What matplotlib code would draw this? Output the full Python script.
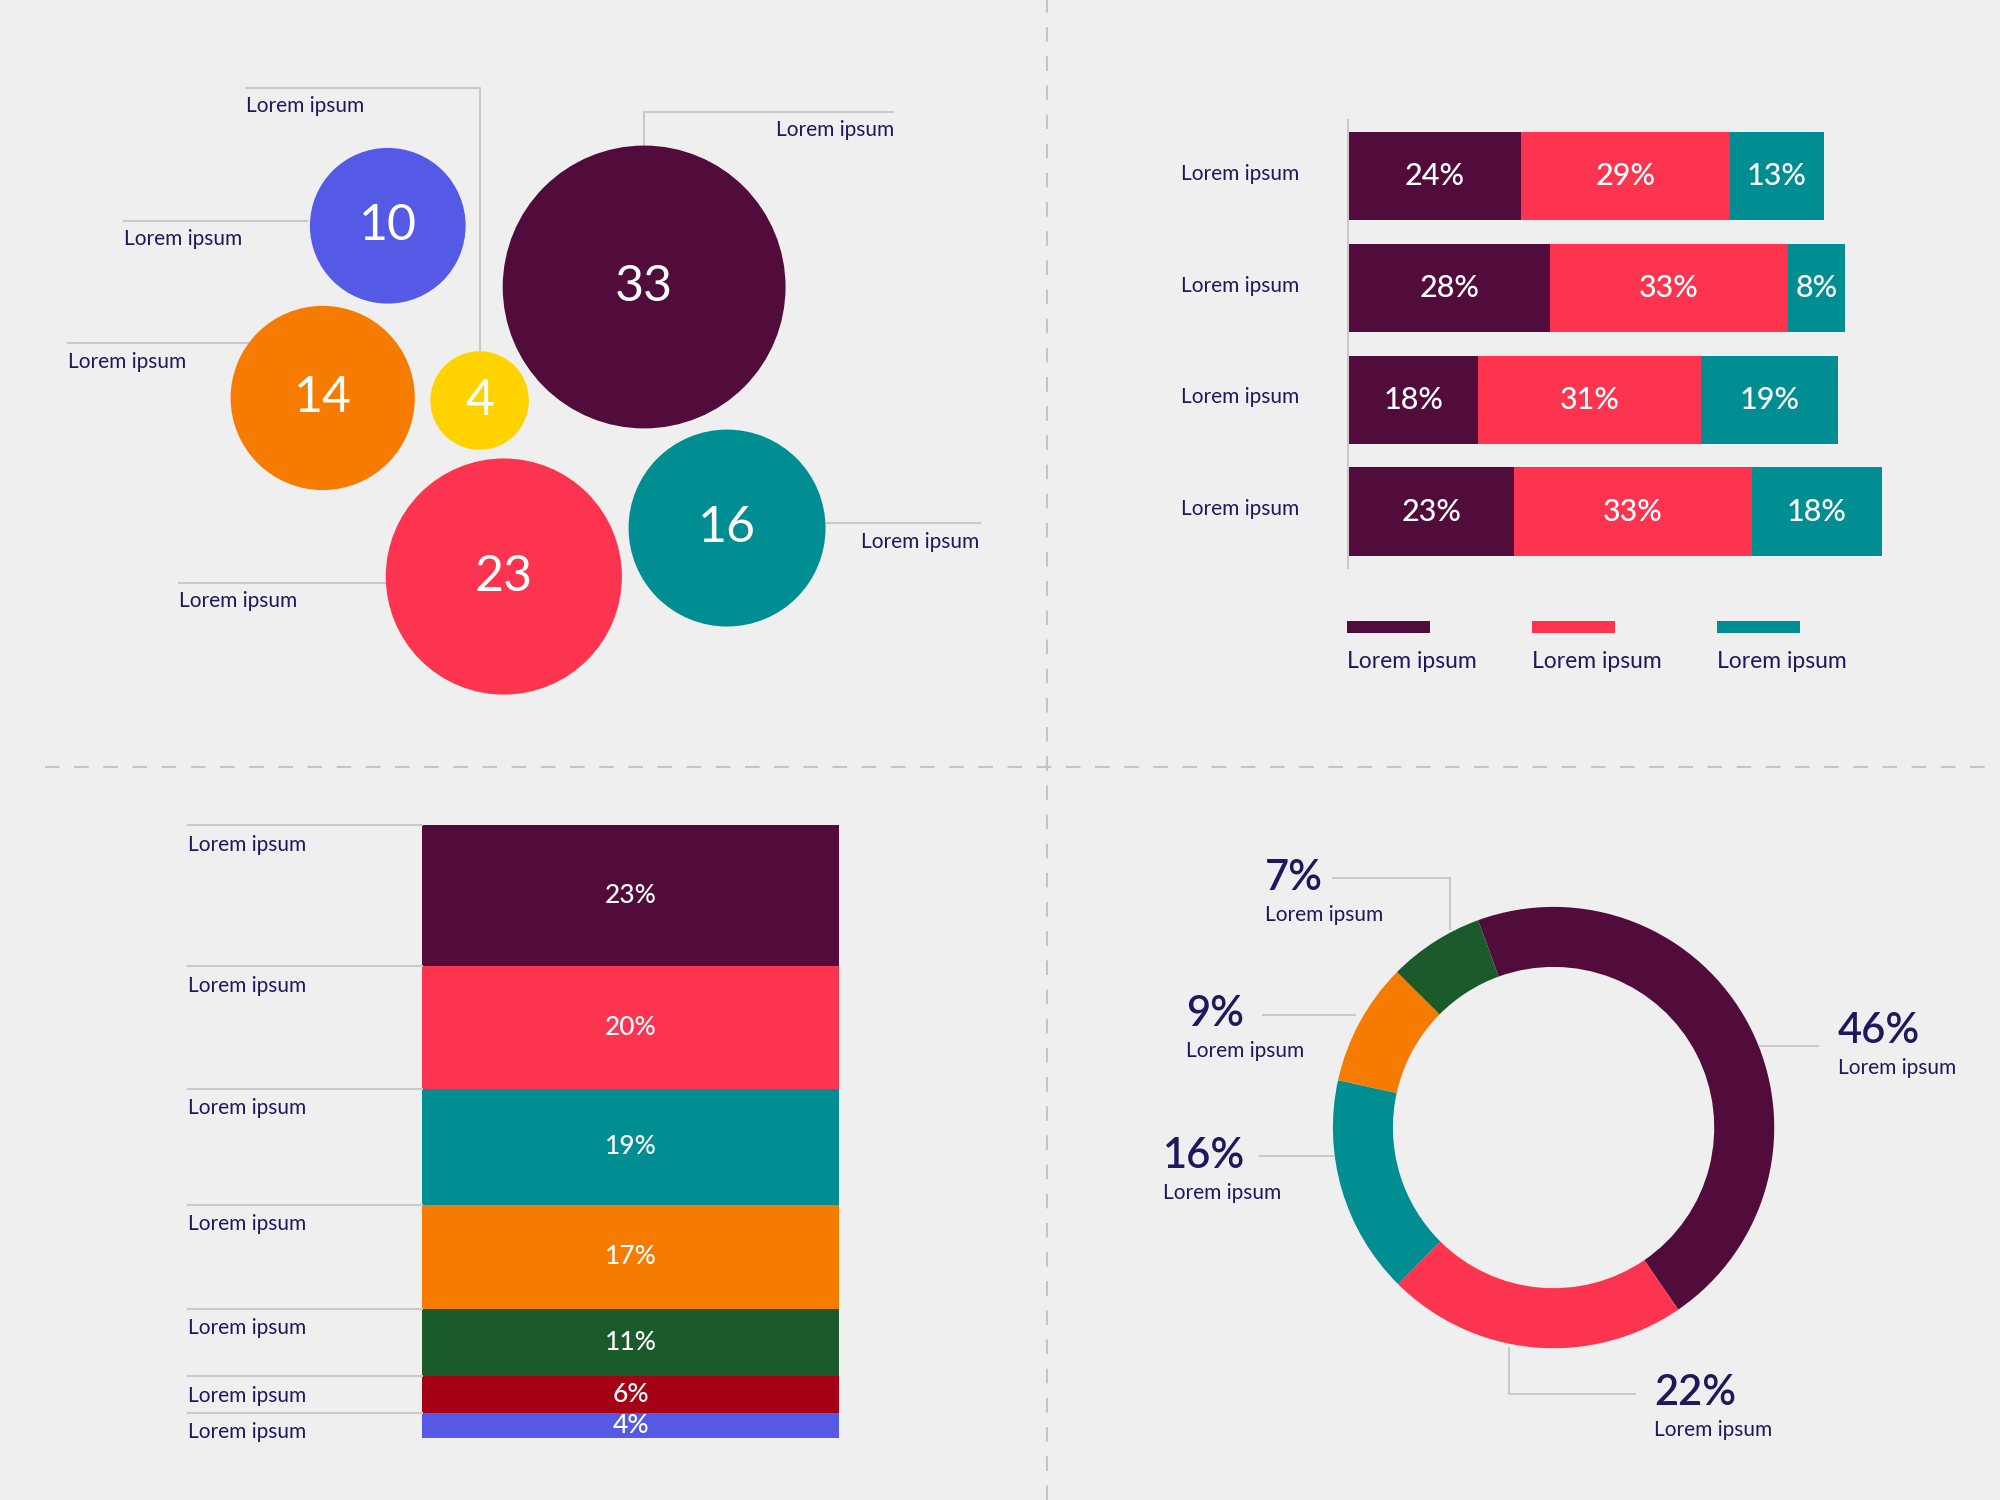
import numpy as np
import matplotlib
matplotlib.use("Agg")
import matplotlib.pyplot as plt
from matplotlib.patches import Circle, Rectangle
from matplotlib.lines import Line2D
from matplotlib.transforms import blended_transform_factory

plt.rcParams['font.family'] = ['Lato', 'DejaVu Sans']

# layout is measured on a 1568 x 1176 grid, figure is 2000 x 1500 px
W, H = 1568, 1176
BG = '#efefef'
NAVY = '#1c1a5c'
GREY = '#c9c9c9'

PURPLE = '#520c3c'
RED = '#fc344f'
TEAL = '#008e93'
ORANGE = '#f57c00'
GREEN = '#1b5a2b'
DARKRED = '#a50016'
BLUE = '#545ae6'
YELLOW = '#ffd200'

# --- bubbles
bubble_values = [10, 14, 4, 33, 23, 16]
bubble_x = [304, 253, 376, 505, 395, 570]
bubble_y = [177, 312, 314, 225, 452, 414]
bubble_colors = [BLUE, ORANGE, YELLOW, PURPLE, RED, TEAL]
bubble_labels = ['Lorem ipsum'] * 6

# --- stacked horizontal bars
bar_rows = ['Lorem ipsum'] * 4
bar_series = ['Lorem ipsum', 'Lorem ipsum', 'Lorem ipsum']
bar_a = [24, 28, 18, 23]
bar_b = [29, 33, 31, 33]
bar_c = [13, 8, 19, 18]
bar_colors = [PURPLE, RED, TEAL]

# --- stacked column
col_values = [23, 20, 19, 17, 11, 6, 4]
col_labels = ['Lorem ipsum'] * 7
col_colors = [PURPLE, RED, TEAL, ORANGE, GREEN, DARKRED, BLUE]

# --- donut
donut_values = [46, 22, 16, 9, 7]
donut_labels = ['Lorem ipsum'] * 5
donut_colors = [PURPLE, RED, TEAL, ORANGE, GREEN]


def rect(x0, y0, x1, y1):
    return [x0 / W, 1 - y1 / H, (x1 - x0) / W, (y1 - y0) / H]


def fpt(x, y):
    return x / W, 1 - y / H


fig = plt.figure(figsize=(20, 15), dpi=100, facecolor=BG)

# dashed dividers
fig.add_artist(Line2D([821 / W, 821 / W], [0, 1], color='#c4c4c4', lw=1.5,
                      ls=(0, (7, 7)), transform=fig.transFigure))
fig.add_artist(Line2D([35 / W, 1558 / W], [1 - 601 / H, 1 - 601 / H], color='#c4c4c4',
                      lw=1.5, ls=(0, (7, 7)), transform=fig.transFigure))

# ---------------- bubble chart
ax1 = fig.add_axes(rect(0, 0, 821, 601))
ax1.set_xlim(0, 821)
ax1.set_ylim(601, 0)
ax1.axis('off')
for v, x, y, c in zip(bubble_values, bubble_x, bubble_y, bubble_colors):
    r = 19.3 * np.sqrt(v)
    ax1.add_patch(Circle((x, y), r, color=c, lw=0, zorder=3))
    ax1.text(x, y, str(v), color='white', fontsize=36, ha='center', va='center',
             zorder=4)

bubble_leaders = [
    ([97, 241], [173, 173], (97, 187), 'left'),
    ([53, 195], [269, 269], (53, 284), 'left'),
    ([193, 376, 376], [69, 69, 277], (193, 83), 'left'),
    ([505, 505, 700], [114, 88, 88], (701, 102), 'right'),
    ([140, 303], [457, 457], (140, 471), 'left'),
    ([648, 768], [410, 410], (768, 425), 'right'),
]
for (lx, ly, (tx, ty), ha), lab in zip(bubble_leaders, bubble_labels):
    ax1.plot(lx, ly, color=GREY, lw=1.5, zorder=1)
    ax1.text(tx, ty, lab, color=NAVY, fontsize=15, ha=ha, va='center')

# ---------------- stacked horizontal bars
ax2 = fig.add_axes(rect(1057, 94, 1057 + 5.65 * 80, 445))
ypos = np.arange(len(bar_rows))
left = np.zeros(len(bar_rows))
for vals, c in zip([bar_a, bar_b, bar_c], bar_colors):
    vals = np.array(vals)
    ax2.barh(ypos, vals, left=left, height=0.79, color=c, lw=0)
    for y, v, l in zip(ypos, vals, left):
        ax2.text(l + v / 2, y, f'{v}%', color='white', fontsize=22,
                 fontweight='medium', ha='center', va='center')
    left += vals
ax2.set_xlim(0, 80)
ax2.set_ylim(len(bar_rows) - 0.5, -0.5)
ax2.set_facecolor('none')
for s in ['top', 'right', 'bottom']:
    ax2.spines[s].set_visible(False)
ax2.spines['left'].set_color(GREY)
ax2.spines['left'].set_linewidth(1.5)
ax2.set_xticks([])
ax2.set_yticks([])
bt = blended_transform_factory(fig.transFigure, ax2.transData)
for y, lab in zip(ypos, bar_rows):
    ax2.text(926 / W, y - 0.02, lab, transform=bt, color=NAVY, fontsize=15,
             ha='left', va='center')

# legend
for i, (lab, c) in enumerate(zip(bar_series, bar_colors)):
    x0 = 1056 + i * 145
    fig.add_artist(Rectangle(fpt(x0, 496), 65 / W, 9 / H, color=c, lw=0,
                             transform=fig.transFigure))
    fig.text(*fpt(x0, 519), lab, color=NAVY, fontsize=16.5, ha='left', va='center')

# ---------------- stacked column
ax3 = fig.add_axes(rect(331, 647, 658, 1127))
bottom = 0
ct = blended_transform_factory(fig.transFigure, ax3.transData)
for v, c, lab in zip(col_values, col_colors, col_labels):
    ax3.bar(0, v, bottom=bottom, width=1, color=c, lw=0)
    ax3.text(0, bottom + v / 2, f'{v}%', color='white', fontsize=19,
             fontweight='medium', ha='center', va='center')
    ax3.add_line(Line2D([147 / W, 331 / W], [bottom, bottom], color=GREY, lw=1.5,
                        transform=ct, clip_on=False))
    ax3.annotate(lab, xy=(147 / W, bottom), xycoords=ct, xytext=(0, -14),
                 textcoords='offset points', color=NAVY, fontsize=15,
                 ha='left', va='center')
    bottom += v
ax3.set_xlim(-0.5, 0.5)
ax3.set_ylim(sum(col_values), 0)
ax3.axis('off')

# ---------------- donut
ax4 = fig.add_axes(rect(1218 - 173, 884 - 173, 1218 + 173, 884 + 173))
ax4.pie(donut_values, colors=donut_colors, startangle=110, counterclock=False,
        radius=1, wedgeprops=dict(width=0.272, linewidth=0))
ax4.set_xlim(-1, 1)
ax4.set_ylim(-1, 1)
ax4.axis('off')

donut_leaders = [
    ([1380, 1425], [820, 820], (1441, 808)),
    ([1183, 1183, 1282], [1057, 1093, 1093], (1297, 1092)),
    ([988, 1045], [906, 906], (912, 906)),
    ([990, 1062], [796, 796], (930, 795)),
    ([1045, 1137, 1137], [688, 688, 728], (992, 688)),
]
for (lx, ly, (tx, ty)), v, lab in zip(donut_leaders, donut_values, donut_labels):
    fig.add_artist(Line2D([x / W for x in lx], [1 - y / H for y in ly], color=GREY,
                          lw=1.5, transform=fig.transFigure))
    fig.text(*fpt(tx, ty), f'{v}%', color=NAVY, fontsize=30, fontweight='semibold',
             ha='left', va='center')
    fig.text(*fpt(tx, ty + 29), lab, color=NAVY, fontsize=15, ha='left',
             va='center')

fig.savefig('out.png', dpi=100, facecolor=BG)
